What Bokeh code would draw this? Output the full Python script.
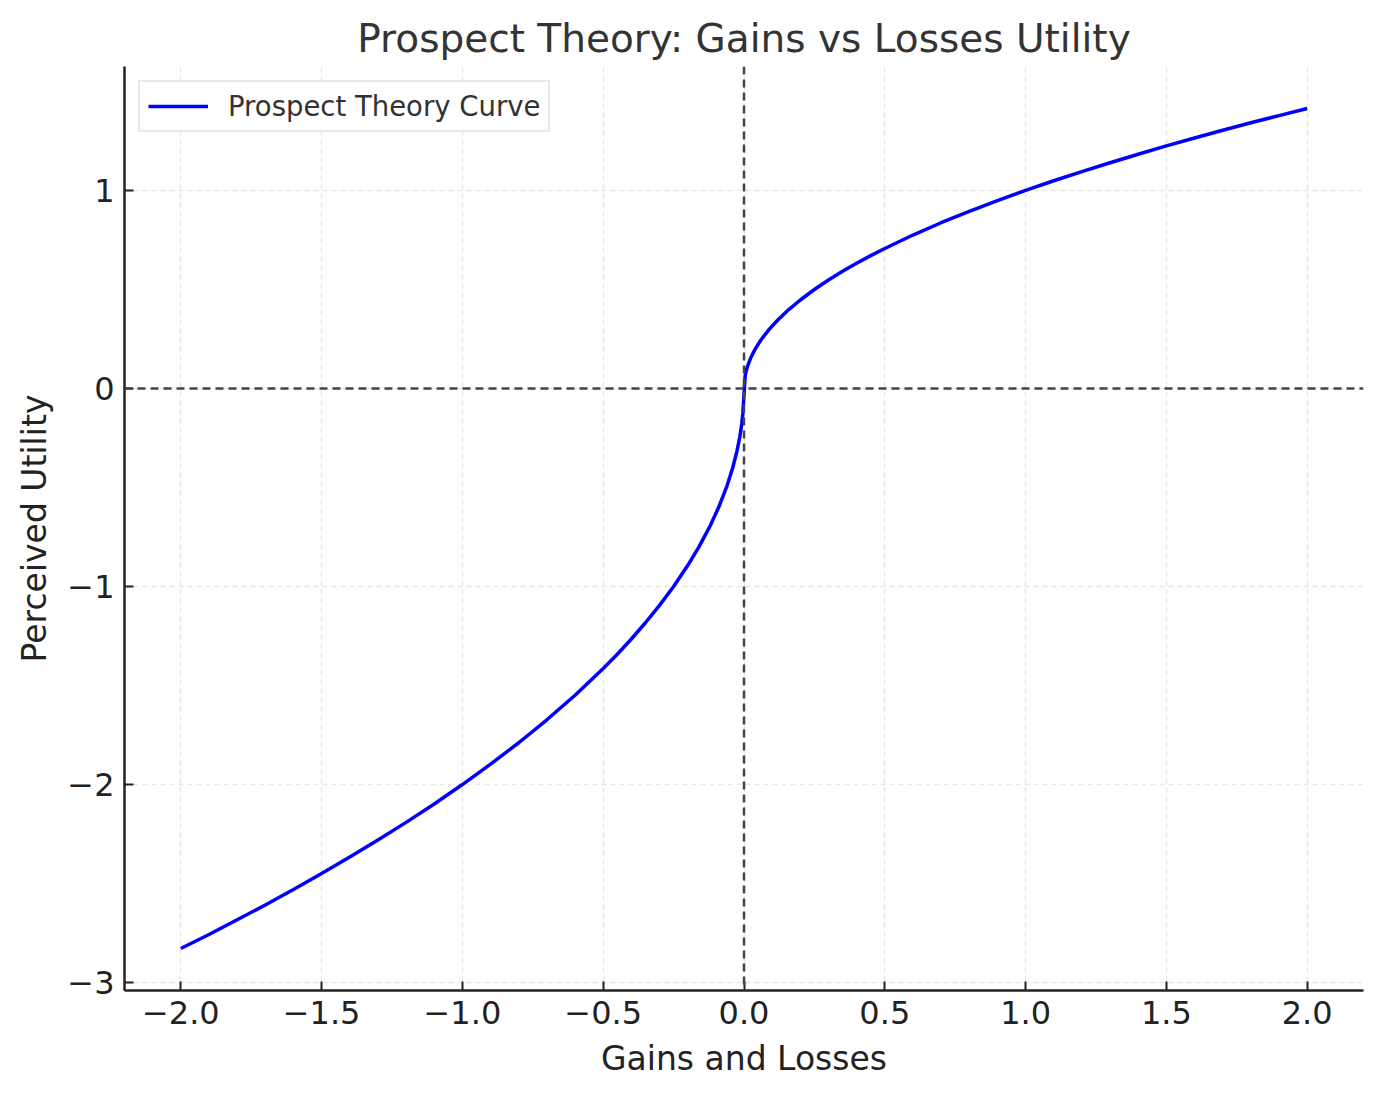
from bokeh.plotting import figure
from bokeh.models import Span, CustomJSTickFormatter, FixedTicker, Range1d, Legend, LegendItem
from bokeh.embed import file_html
from bokeh.resources import INLINE

# Values
loss_x = [-2.0, -1.9, -1.8, -1.7, -1.6, -1.5, -1.4, -1.3, -1.2, -1.1, -1.0, -0.9, -0.8, -0.7, -0.6,
          -0.5, -0.45, -0.4, -0.35, -0.3, -0.25, -0.2, -0.16, -0.12, -0.09, -0.06, -0.04, -0.025,
          -0.015, -0.008, -0.004]
loss_y = [-2.828, -2.757, -2.683, -2.608, -2.530, -2.449, -2.366, -2.280, -2.191, -2.098, -2.000,
          -1.897, -1.789, -1.673, -1.549, -1.414, -1.342, -1.265, -1.183, -1.095, -1.000, -0.894,
          -0.800, -0.693, -0.600, -0.490, -0.400, -0.316, -0.245, -0.179, -0.126]
gain_x = [0.004, 0.008, 0.015, 0.025, 0.04, 0.06, 0.09, 0.12, 0.16, 0.2, 0.25, 0.3, 0.35, 0.4, 0.45,
          0.5, 0.6, 0.7, 0.8, 0.9, 1.0, 1.1, 1.2, 1.3, 1.4, 1.5, 1.6, 1.7, 1.8, 1.9, 2.0]
gain_y = [0.063, 0.089, 0.122, 0.158, 0.200, 0.245, 0.300, 0.346, 0.400, 0.447, 0.500, 0.548, 0.592,
          0.632, 0.671, 0.707, 0.775, 0.837, 0.894, 0.949, 1.000, 1.049, 1.095, 1.140, 1.183, 1.225,
          1.265, 1.304, 1.342, 1.378, 1.414]

curve_x = loss_x + gain_x
curve_y = loss_y + gain_y

x_ticks = [-2.0, -1.5, -1.0, -0.5, 0.0, 0.5, 1.0, 1.5, 2.0]
y_ticks = [-3, -2, -1, 0, 1]

title_text = "Prospect Theory: Gains vs Losses Utility"
x_label = "Gains and Losses"
y_label = "Perceived Utility"
series_name = "Prospect Theory Curve"

FONT = "DejaVu Sans"

p = figure(width=1383, height=1097, output_backend="svg", toolbar_location=None,
           x_range=Range1d(-2.2, 2.2), y_range=Range1d(-3.04, 1.626),
           min_border_left=124, min_border_right=20, min_border_bottom=107, min_border_top=66)

p.title.text = title_text
p.title.align = "center"
p.title.text_font = FONT
p.title.text_font_size = "39px"
p.title.text_font_style = "normal"
p.title.text_color = "#333333"
p.title.standoff = 12

p.outline_line_color = None
p.background_fill_color = "white"
p.border_fill_color = "white"

for ax in (p.xaxis[0], p.yaxis[0]):
    ax.axis_line_width = 2.5
    ax.axis_line_color = "#222222"
    ax.major_tick_in = 9
    ax.major_tick_out = 0
    ax.major_tick_line_width = 2
    ax.major_tick_line_color = "#222222"
    ax.minor_tick_line_color = None
    ax.major_label_text_font = FONT
    ax.major_label_text_font_size = "32px"
    ax.major_label_text_color = "#222222"
    ax.axis_label_text_font = FONT
    ax.axis_label_text_font_size = "33px"
    ax.axis_label_text_font_style = "normal"
    ax.axis_label_text_color = "#222222"
    ax.major_label_standoff = 10

p.xaxis.ticker = FixedTicker(ticks=x_ticks)
p.yaxis.ticker = FixedTicker(ticks=y_ticks)
p.xaxis.formatter = CustomJSTickFormatter(code="""
    var v = Math.abs(tick) < 1e-9 ? 0 : tick;
    return v.toFixed(1).replace('-', '\u2212');
""")
p.yaxis.formatter = CustomJSTickFormatter(code="""
    var v = Math.abs(tick) < 1e-9 ? 0 : tick;
    return v.toFixed(0).replace('-', '\u2212');
""")
p.xaxis.axis_label = x_label
p.yaxis.axis_label = y_label
p.xaxis.axis_label_standoff = 12
p.yaxis.axis_label_standoff = 10

p.grid.grid_line_color = "#e6e6e6"
p.grid.grid_line_dash = "5 4"
p.grid.grid_line_width = 1.5

p.add_layout(Span(location=0, dimension="width", line_color="#444444", line_dash="8 5", line_width=2.5))
p.add_layout(Span(location=0, dimension="height", line_color="#444444", line_dash="8 5", line_width=2.5))

r = p.line(curve_x, curve_y, line_color="#0000ff", line_width=3.5, line_join="round")

legend = Legend(items=[LegendItem(label=series_name, renderers=[r])], location="top_left")
legend.label_text_font = FONT
legend.label_text_font_size = "27.5px"
legend.label_text_color = "#333333"
legend.border_line_color = "#d0d0d0"
legend.border_line_width = 2
legend.background_fill_alpha = 1.0
legend.margin = 14
legend.padding = 8
legend.glyph_width = 60
legend.glyph_height = 32
legend.label_standoff = 20
legend.label_height = 32
p.add_layout(legend)

open("out.html", "w").write(file_html(p, INLINE))
